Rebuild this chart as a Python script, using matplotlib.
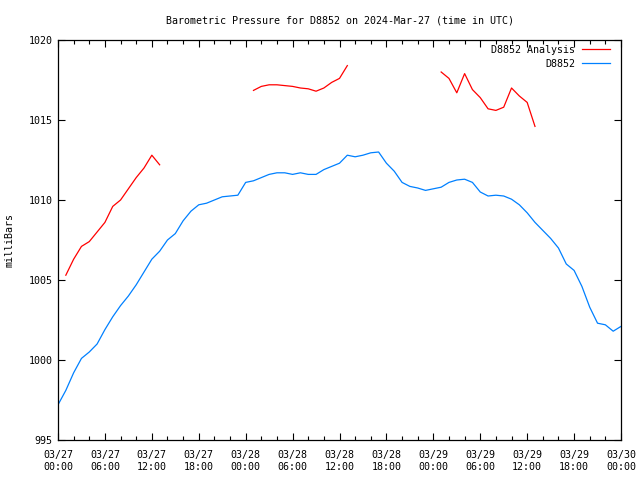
import datetime as dt
import numpy as np
import matplotlib
matplotlib.use("Agg")
import matplotlib.pyplot as plt
import matplotlib.dates as mdates

# observed station pressure, hourly from 2024-03-27 00:00 UTC
obs_hours = list(range(0, 73))
obs_mb = [997.2, 998.1, 999.2, 1000.1, 1000.5, 1001.0, 1001.9, 1002.7, 1003.4, 1004.0,
          1004.7, 1005.5, 1006.3, 1006.8, 1007.5, 1007.9, 1008.7, 1009.3, 1009.7, 1009.8,
          1010.0, 1010.2, 1010.25, 1010.3, 1011.1, 1011.2, 1011.4, 1011.6, 1011.7, 1011.7,
          1011.6, 1011.7, 1011.6, 1011.6, 1011.9, 1012.1, 1012.3, 1012.8, 1012.7, 1012.8,
          1012.95, 1013.0, 1012.3, 1011.8, 1011.1, 1010.85, 1010.75, 1010.6, 1010.7, 1010.8,
          1011.1, 1011.25, 1011.3, 1011.1, 1010.5, 1010.25, 1010.3, 1010.25, 1010.05, 1009.7,
          1009.2, 1008.6, 1008.1, 1007.6, 1007.0, 1006.0, 1005.6, 1004.6, 1003.3, 1002.3,
          1002.2, 1001.8, 1002.1]

# analysis values (gaps as nan)
nan = float("nan")
ana_hours = [1, 2, 3, 4, 5, 6, 7, 8, 9, 10, 11, 12, 13, 19,
             25, 26, 27, 28, 29, 30, 31, 32, 33, 34, 35, 36, 37, 43,
             49, 50, 51, 52, 53, 54, 55, 56, 57, 58, 59, 60, 61]
ana_mb = [1005.3, 1006.3, 1007.1, 1007.4, 1008.0, 1008.6, 1009.6, 1010.0, 1010.7, 1011.4,
          1012.0, 1012.8, 1012.2, nan,
          1016.85, 1017.1, 1017.2, 1017.2, 1017.15, 1017.1, 1017.0, 1016.95, 1016.8, 1017.0,
          1017.35, 1017.6, 1018.4, nan,
          1018.0, 1017.6, 1016.7, 1017.9, 1016.9, 1016.4, 1015.7, 1015.6, 1015.8, 1017.0,
          1016.5, 1016.1, 1014.6]

start = dt.datetime(2024, 3, 27)
obs_t = [start + dt.timedelta(hours=h) for h in obs_hours]
ana_t = [start + dt.timedelta(hours=h) for h in ana_hours]

font = "DejaVu Sans Mono"
fs = 7.2

fig = plt.figure(figsize=(6.4, 4.8), dpi=100)
ax = fig.add_axes([58 / 640, 40 / 480, 563 / 640, 400 / 480])

ax.plot(ana_t, ana_mb, color="#ff0000", lw=0.9, label="D8852 Analysis")
ax.plot(obs_t, obs_mb, color="#0080ff", lw=0.9, label="D8852")

ax.set_xlim(start, start + dt.timedelta(hours=72))
ax.set_ylim(995, 1020)
ax.set_yticks(np.arange(995, 1021, 5))
ax.xaxis.set_major_locator(mdates.HourLocator(byhour=[0, 6, 12, 18]))
ax.xaxis.set_minor_locator(mdates.HourLocator(interval=2))
ax.xaxis.set_major_formatter(mdates.DateFormatter("%m/%d\n%H:%M"))

ax.tick_params(which="both", direction="in", top=True, right=True,
               labelsize=fs, width=0.8)
ax.tick_params(which="major", length=5)
ax.tick_params(which="minor", length=3)
ax.tick_params(axis="x", which="major", pad=7)
ax.tick_params(axis="y", which="major", pad=4)
for lab in ax.get_xticklabels() + ax.get_yticklabels():
    lab.set_family(font)
    lab.set_linespacing(1.3)
for s in ax.spines.values():
    s.set_linewidth(0.9)

ax.set_ylabel("milliBars", fontsize=fs, family=font, labelpad=10)
ax.set_title("Barometric Pressure for D8852 on 2024-Mar-27 (time in UTC)",
             fontsize=fs, family=font, pad=12)

leg = ax.legend(loc="upper right", bbox_to_anchor=(1 - 6 / 563, 1.0),
                frameon=False, markerfirst=False,
                prop={"family": font, "size": fs}, handlelength=2.8,
                handletextpad=0.7, labelspacing=0.4, borderpad=0.2,
                borderaxespad=0.3)
leg._legend_handle_box.get_children()[0].align = "right"

fig.savefig("out.png", dpi=100)
